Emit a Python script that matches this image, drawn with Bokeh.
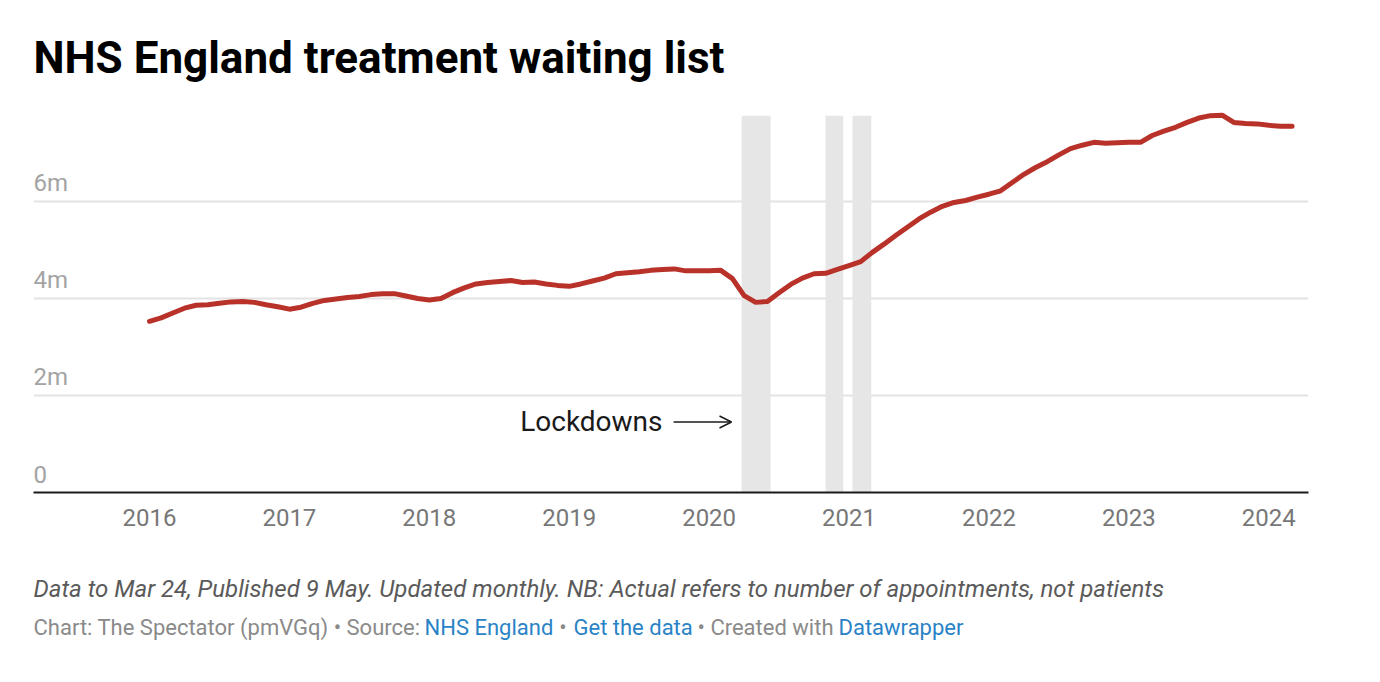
from bokeh.plotting import figure
from bokeh.models import Range1d, Label, Span, Arrow, OpenHead, FixedTicker
from bokeh.layouts import column
from bokeh.core.properties import value
from bokeh.embed import file_html
from bokeh.resources import INLINE

# ---- data (millions on the waiting list, monthly, Jan 2016 - Mar 2024) ----
years = [2016, 2017, 2018, 2019, 2020, 2021, 2022, 2023, 2024]
wl_2016 = [3.53, 3.60, 3.70, 3.80, 3.86, 3.87, 3.90, 3.93, 3.94, 3.92, 3.87, 3.83]
wl_2017 = [3.78, 3.82, 3.90, 3.96, 3.99, 4.02, 4.04, 4.08, 4.10, 4.10, 4.05, 4.00]
wl_2018 = [3.97, 4.00, 4.12, 4.22, 4.30, 4.33, 4.35, 4.37, 4.33, 4.34, 4.30, 4.27]
wl_2019 = [4.25, 4.30, 4.36, 4.42, 4.51, 4.53, 4.55, 4.58, 4.60, 4.61, 4.57, 4.57]
wl_2020 = [4.57, 4.58, 4.41, 4.06, 3.92, 3.94, 4.12, 4.29, 4.42, 4.51, 4.52, 4.60]
wl_2021 = [4.68, 4.76, 4.95, 5.12, 5.30, 5.47, 5.64, 5.78, 5.90, 5.98, 6.02, 6.09]
wl_2022 = [6.15, 6.22, 6.39, 6.56, 6.70, 6.82, 6.96, 7.09, 7.16, 7.22, 7.20, 7.21]
wl_2023 = [7.22, 7.22, 7.36, 7.45, 7.53, 7.63, 7.72, 7.77, 7.78, 7.63, 7.61, 7.60]
wl_2024 = [7.57, 7.55, 7.55]

# lockdown periods (decimal years)
lock_start = [2020.232, 2020.832, 2021.025]
lock_end = [2020.439, 2020.959, 2021.159]

y_ticks = [0, 2, 4, 6]
y_tick_labels = ["0", "2m", "4m", "6m"]
x_tick_labels = [str(y) for y in years]

title_text = "NHS England treatment waiting list"
note_text = ("Data to Mar 24, Published 9 May. Updated monthly. "
             "NB: Actual refers to number of appointments, not patients")

# ---- build series ----
series = [wl_2016, wl_2017, wl_2018, wl_2019, wl_2020, wl_2021, wl_2022, wl_2023, wl_2024]
t, v = [], []
for yr, vals in zip(years, series):
    for m, val in enumerate(vals):
        t.append(yr + m / 12.0)
        v.append(val)

FONT = "Roboto"
W = 1360


def blank(height):
    f = figure(width=W, height=height, x_range=Range1d(0, 1), y_range=Range1d(0, 1),
               x_axis_type=None, y_axis_type=None, output_backend="svg",
               toolbar_location=None, min_border=0)
    f.outline_line_color = None
    f.xgrid.visible = False
    f.ygrid.visible = False
    f.background_fill_color = "white"
    f.border_fill_color = "white"
    return f


# ---- title ----
top = blank(100)
top.add_layout(Label(x=0, y=43, x_units="screen", y_units="screen", text=title_text,
                     text_font=FONT, text_font_style="bold", text_font_size="44px",
                     text_color="#000000", text_baseline="alphabetic"))

# ---- main chart ----
X0, X1 = 2015.171, 2024.284
Y0, Y1 = 0, 8.082
BAND_TOP = 7.77

p = figure(width=W, height=445,
           x_range=Range1d(X0, X1), y_range=Range1d(Y0, Y1),
           y_axis_type=None, output_backend="svg", toolbar_location=None,
           min_border_left=33, min_border_right=W - 1308,
           min_border_top=0, min_border_bottom=53)
p.outline_line_color = None
p.background_fill_color = "white"
p.border_fill_color = "white"
p.xgrid.visible = False

p.xaxis.ticker = FixedTicker(ticks=years)
p.xaxis.major_label_overrides = {y: s for y, s in zip(years, x_tick_labels)}
p.xaxis.axis_line_color = "#1a1a1a"
p.xaxis.axis_line_width = 2
p.xaxis.major_tick_line_color = None
p.xaxis.minor_tick_line_color = None
p.xaxis.major_tick_out = 0
p.xaxis.major_label_standoff = 16
p.xaxis.major_label_text_font = FONT
p.xaxis.major_label_text_font_size = "24px"
p.xaxis.major_label_text_color = "#777777"

for yv in y_ticks[1:]:
    p.add_layout(Span(location=yv, dimension="width", line_color="#e3e3e3",
                      line_width=2, level="underlay"))

p.text(x=[X0] * len(y_ticks), y=y_ticks, text=y_tick_labels,
       text_font=value(FONT), text_font_size="24px", text_color="#a3a3a3",
       text_align="left", text_baseline="alphabetic", y_offset=-18)

p.quad(left=lock_start, right=lock_end, bottom=0, top=BAND_TOP,
       fill_color="#e6e6e6", line_color=None)

p.line(x=t, y=v, line_color="#b9322a", line_width=5,
       line_join="round", line_cap="round")

ANN_Y = 1.454
p.add_layout(Label(x=2019.667, y=ANN_Y, text="Lockdowns", text_align="right",
                   text_baseline="middle", text_font=FONT, text_font_size="28px",
                   text_color="#1a1a1a"))
p.add_layout(Arrow(end=OpenHead(size=12, line_width=1.5, line_color="#1a1a1a"),
                   x_start=2019.746, y_start=ANN_Y, x_end=2020.16, y_end=ANN_Y,
                   line_width=1.5, line_color="#1a1a1a"))

# ---- footer ----
foot = blank(100)
foot.add_layout(Label(x=0, y=57, x_units="screen", y_units="screen", text=note_text,
                      text_font=FONT, text_font_style="italic", text_font_size="24px",
                      text_color="#5a5a5a", text_baseline="alphabetic"))

GRAY = "#8a8a8a"
BLUE = "#2a83c6"
footer_parts = [
    ("Chart: The Spectator (pmVGq) \u2022 Source:", 0, GRAY, "left"),
    ("NHS England", 391, BLUE, "left"),
    ("\u2022", 529.5, GRAY, "center"),
    ("Get the data", 540, BLUE, "left"),
    ("\u2022 Created with", 664, GRAY, "left"),
    ("Datawrapper", 805, BLUE, "left"),
]
for txt, xs, col, al in footer_parts:
    foot.add_layout(Label(x=xs, y=18, x_units="screen", y_units="screen", text=txt,
                          text_font=FONT, text_font_size="22px", text_color=col,
                          text_align=al, text_baseline="alphabetic"))

layout = column(top, p, foot, spacing=0)
open("out.html", "w").write(file_html(layout, INLINE))
